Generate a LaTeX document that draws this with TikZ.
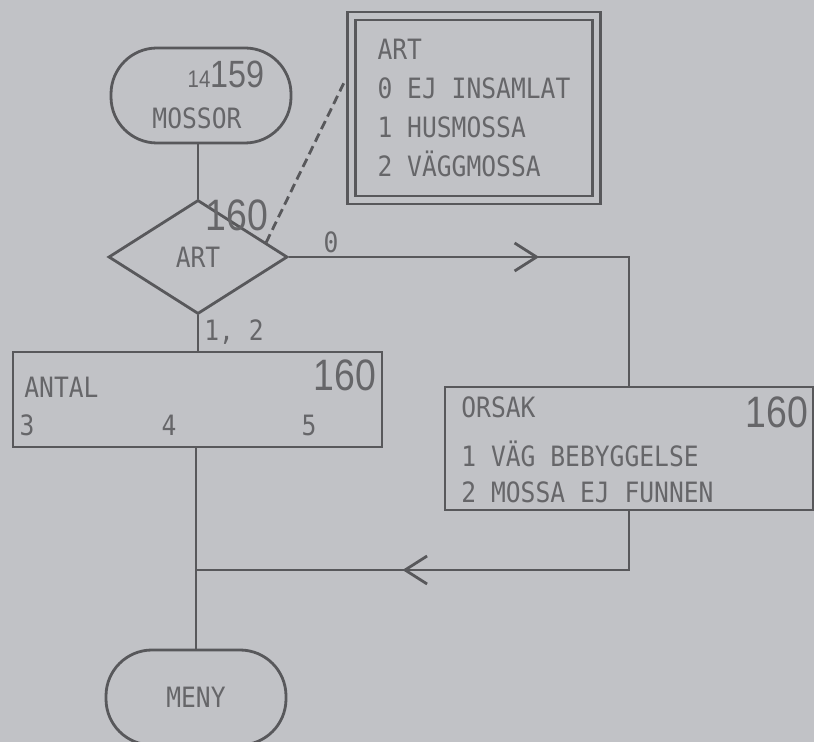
\documentclass[tikz,border=0pt]{standalone}
\usepackage{fontspec}
\usepackage{tikz}
\usetikzlibrary{arrows.meta,calc,shapes.geometric,decorations.markings}
\newfontfamily\plotfam[FakeStretch=0.88]{DejaVu Sans Mono}
\newfontfamily\numfam[FakeStretch=0.85]{Liberation Sans}
\definecolor{paper}{RGB}{193,194,198}
\definecolor{ink}{RGB}{88,88,91}
\definecolor{pen}{RGB}{102,102,105}

\begin{document}
\begin{tikzpicture}[ x=0.5pt, y=-0.5pt, line width=1.4pt, color=ink, text=pen,
    font={\plotfam\fontsize{14pt}{19.5pt}\selectfont},
    terminal/.style={ draw=ink, rectangle, rounded corners=23pt, minimum
        width=90pt, minimum height=47.5pt, inner sep=0pt },
    decision/.style={ draw=ink, diamond, aspect=1.57, minimum width=89.5pt,
        minimum height=57pt, inner sep=0pt },
    box/.style={ draw=ink, rectangle, inner sep=0pt },
    legend/.style={ draw=ink, double=paper, double distance=2.6pt, align=left,
        minimum width=122.75pt, minimum height=92pt, inner sep=0pt },
    num/.style={ font={\numfam\fontsize{22pt}{26pt}\selectfont}, inner sep=0pt },
    txt/.style={ inner sep=0pt },
    line/.style={ draw=ink },
    flow/.style={ line, postaction={decorate}, decoration={markings, mark=at
        position #1 with {\arrow{Straight Barb[length=11pt, width=14pt]}}} },
    note/.style={ draw=ink, line width=1.4pt, dash pattern=on 4.5pt off 2.5pt } ]

    \useasboundingbox (0,0) rectangle (814,742);
    \fill[paper] (0,0) rectangle (814,742);

    \node[terminal] (mossor) at (201,95.5) {};
    \node[txt, anchor=base] (mossornr) at (226,88)
    {{\numfam\fontsize{12pt}{14pt}\selectfont 14}{\numfam\fontsize{19pt}{22pt}\selectfont 159}};
    \node[txt] (mossortxt) at (197,118) {MOSSOR};
    \node[decision] (art) at (198,257) {ART};
    \node[num] (artnr) at (237,215) {160};
    \node[legend] (legend) at (474,108) {ART\\0 EJ INSAMLAT\\1 HUSMOSSA\\2 VÄGGMOSSA};
    \node[box, minimum width=184.5pt, minimum height=47.5pt] (antal) at (197.5,399.5) {};
    \node[txt, anchor=west] (antaltxt) at (23,387) {ANTAL};
    \node[num] (antalnr) at (345,375) {160};
    \node[txt] (val3) at (27,425) {3};
    \node[txt] (val4) at (169,425) {4};
    \node[txt] (val5) at (309,425) {5};
    \node[box, minimum width=184pt, minimum height=61.5pt] (orsak) at (629,448.5) {};
    \node[txt, anchor=west] (orsaktxt) at (460,407) {ORSAK};
    \node[num] (orsaknr) at (777,412) {160};
    \node[txt, anchor=west] (orsak1) at (460,454) {1 VÄG BEBYGGELSE};
    \node[txt, anchor=west] (orsak2) at (460,492) {2 MOSSA EJ FUNNEN};
    \node[terminal] (meny) at (196,697.5) {MENY};
    \node[txt] (nej) at (331,242) {0};
    \node[txt] (ja) at (234,332) {1, 2};
    \coordinate (join) at (196,570);

    \draw[line] (art.north |- mossor.south) -- (art.north);
    \draw[line] (art.south) -- (art.south |- antal.north);
    \draw[flow=0.534] (art.east) -- (art.east -| orsak.north) -- (orsak.north);
    \draw[line] (meny.north |- antal.south) -- (meny.north);
    \draw[flow=0.58] (orsak.south) -- (orsak.south |- join) -- (join);
    \draw[note] ($(art.north)!0.75!(art.east)$) -- ([xshift=-3pt, yshift=12.5pt]legend.west);

\end{tikzpicture}
\end{document}
